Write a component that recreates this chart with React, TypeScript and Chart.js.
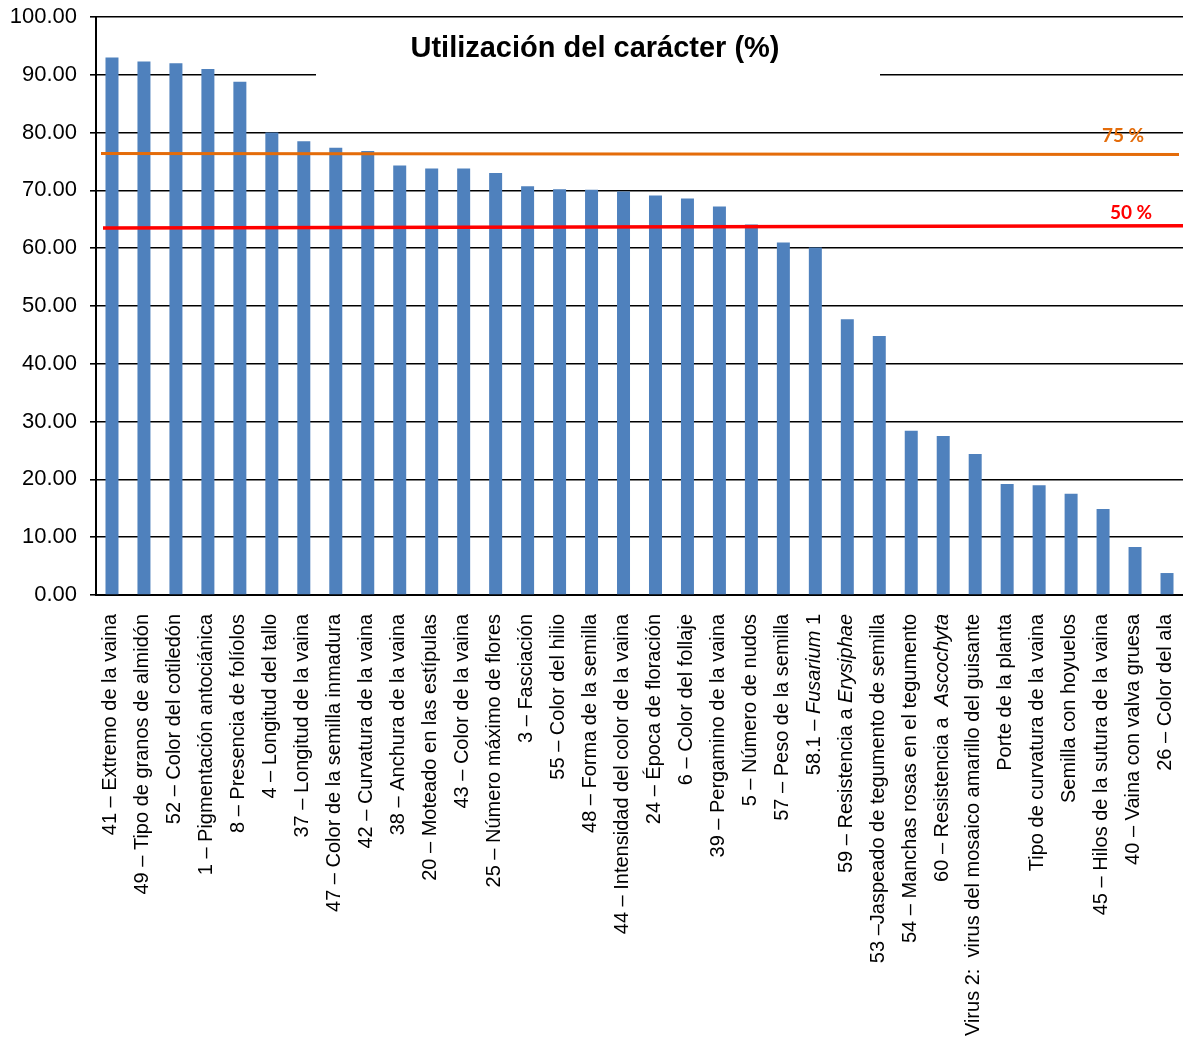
import React, { useEffect, useRef } from "react";
import { Chart, registerables } from "chart.js";

Chart.register(...registerables);

// Category labels; text between underscores is drawn in italics
const categories: string[] = [
  "41 – Extremo de la vaina",
  "49 – Tipo de granos de almidón",
  "52 – Color del cotiledón",
  "1 – Pigmentación antociánica",
  "8 – Presencia de folíolos",
  "4 – Longitud del tallo",
  "37 – Longitud de la vaina",
  "47 – Color de la semilla inmadura",
  "42 – Curvatura de la vaina",
  "38 – Anchura de la vaina",
  "20 – Moteado en las estípulas",
  "43 – Color de la vaina",
  "25 – Número máximo de flores",
  "3 – Fasciación",
  "55 – Color del hilio",
  "48 – Forma de la semilla",
  "44 – Intensidad del color de la vaina",
  "24 – Época de floración",
  "6 – Color del follaje",
  "39 – Pergamino de la vaina",
  "5 – Número de nudos",
  "57 – Peso de la semilla",
  "58.1 – _Fusarium_ 1",
  "59 – Resistencia a _Erysiphae_",
  "53 –Jaspeado de tegumento de semilla",
  "54 – Manchas rosas en el tegumento",
  "60 – Resistencia a  _Ascochyta_",
  "Virus 2:  virus del mosaico amarillo del guisante",
  "Porte de la planta",
  "Tipo de curvatura de la vaina",
  "Semilla con hoyuelos",
  "45 – Hilos de la sutura de la vaina",
  "40 – Vaina con valva gruesa",
  "26 – Color del ala",
];

const utilization: number[] = [
  93.0, 92.3, 92.0, 91.0, 88.8, 80.0, 78.5, 77.4, 76.8, 74.3, 73.8, 73.8,
  73.0, 70.7, 70.2, 70.1, 69.8, 69.1, 68.6, 67.2, 64.1, 61.0, 60.1, 47.7,
  44.8, 28.4, 27.5, 24.4, 19.2, 19.0, 17.5, 14.9, 8.3, 3.8,
];

const yTicks: number[] = [0, 10, 20, 30, 40, 50, 60, 70, 80, 90, 100];

// Reference lines (value at left end, value at right end)
const line75: number[] = [76.4, 76.2];
const line50: number[] = [63.5, 63.9];
const line75Label = "75 %";
const line50Label = "50 %";

const chartTitle = "Utilización del carácter (%)";

const FONT = '"Liberation Sans", Arial, sans-serif';

function parseSegments(s: string): { text: string; italic: boolean }[] {
  const parts = s.split("_");
  return parts
    .map((t, i) => ({ text: t, italic: i % 2 === 1 }))
    .filter((p) => p.text.length > 0);
}

const overlayPlugin = {
  id: "overlay",
  afterDatasetsDraw(chart: any) {
    const { ctx, chartArea, scales } = chart;
    const y = scales.y;
    const drawRef = (vals: number[], color: string, width: number, x0: number, x1: number) => {
      ctx.save();
      ctx.strokeStyle = color;
      ctx.lineWidth = width;
      ctx.beginPath();
      ctx.moveTo(x0, y.getPixelForValue(vals[0]));
      ctx.lineTo(x1, y.getPixelForValue(vals[1]));
      ctx.stroke();
      ctx.restore();
    };
    drawRef(line75, "#E46C0A", 3, chartArea.left + 5, chartArea.right - 4);
    drawRef(line50, "#FF0000", 3.5, chartArea.left + 7, chartArea.right);

    ctx.save();
    ctx.font = 'bold 19px Lato, "Open Sans", sans-serif';
    ctx.textAlign = "center";
    ctx.textBaseline = "middle";
    ctx.fillStyle = "#E46C0A";
    ctx.fillText(line75Label, chartArea.right - 60, y.getPixelForValue(line75[1]) - 19);
    ctx.fillStyle = "#FF0000";
    ctx.fillText(line50Label, chartArea.right - 52, y.getPixelForValue(line50[1]) - 13);
    ctx.restore();
  },
  afterDraw(chart: any) {
    const { ctx, scales } = chart;
    const x = scales.x;
    // Title box
    ctx.save();
    ctx.fillStyle = "#FFFFFF";
    ctx.fillRect(316, 18.2, 564, 60);
    ctx.fillStyle = "#000000";
    ctx.font = `bold 29px ${FONT}`;
    ctx.textAlign = "center";
    ctx.textBaseline = "alphabetic";
    ctx.fillText(chartTitle, 595, 56.5);
    ctx.restore();

    // X labels (rotated, with italic segments)
    ctx.save();
    ctx.fillStyle = "#000000";
    ctx.textBaseline = "alphabetic";
    ctx.textAlign = "left";
    categories.forEach((label, i) => {
      const segs = parseSegments(label);
      const px = x.getPixelForTick(i);
      let total = 0;
      const widths = segs.map((s) => {
        ctx.font = `${s.italic ? "italic " : ""}20px ${FONT}`;
        const w = ctx.measureText(s.text).width;
        total += w;
        return w;
      });
      ctx.save();
      ctx.translate(px + 4.3, x.top + 19);
      ctx.rotate(-Math.PI / 2);
      let cx = -total;
      segs.forEach((s, k) => {
        ctx.font = `${s.italic ? "italic " : ""}20px ${FONT}`;
        ctx.fillText(s.text, cx, 0);
        cx += widths[k];
      });
      ctx.restore();
    });
    ctx.restore();
  },
};

export default function App() {
  const canvasRef = useRef<HTMLCanvasElement | null>(null);

  useEffect(() => {
    document.body.style.margin = "0";
    const canvas = canvasRef.current;
    if (!canvas) return;
    const chart = new Chart(canvas, {
      type: "bar",
      data: {
        labels: categories.map((c) => c.replace(/_/g, "")),
        datasets: [
          {
            data: utilization,
            backgroundColor: "#4F81BD",
            borderWidth: 0,
            categoryPercentage: 0.8,
            barPercentage: 0.508,
          },
        ],
      },
      options: {
        animation: false,
        responsive: false,
        devicePixelRatio: 1,
        layout: { padding: { top: 17, right: 0, left: 0, bottom: 0 } },
        plugins: {
          legend: { display: false },
          title: { display: false },
          tooltip: { enabled: false },
        },
        scales: {
          x: {
            grid: { display: false },
            border: { display: true, color: "#000000", width: 2 },
            ticks: { display: false },
            afterFit: (scale: any) => {
              scale.height = 443;
              scale.paddingLeft = 0;
              scale.paddingRight = 0;
            },
          },
          y: {
            min: 0,
            max: 100,
            afterBuildTicks: (scale: any) => {
              scale.ticks = yTicks.map((v) => ({ value: v }));
            },
            ticks: {
              callback: (v: any) => Number(v).toFixed(2),
              font: { family: FONT, size: 22 },
              color: "#000000",
              padding: 13,
            },
            grid: {
              color: "#000000",
              lineWidth: 1.6,
              tickLength: 6,
              drawTicks: true,
            },
            border: { display: true, color: "#000000", width: 2 },
            afterFit: (scale: any) => {
              scale.width = 96;
              scale.paddingTop = 0;
              scale.paddingBottom = 0;
            },
          },
        },
      },
      plugins: [overlayPlugin],
    });
    return () => chart.destroy();
  }, []);

  return (
    <div style={{ width: 1183, height: 1038, overflow: "hidden" }}>
      <canvas ref={canvasRef} width={1183} height={1038} style={{ display: "block" }} />
    </div>
  );
}
